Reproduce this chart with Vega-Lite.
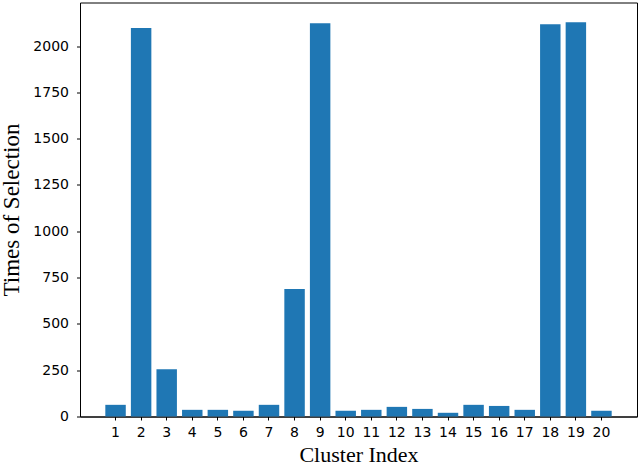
{
  "$schema": "https://vega.github.io/schema/vega-lite/v6.json",
  "width": 557,
  "height": 414,
  "autosize": {"type": "none"},
  "padding": {"left": 80, "top": 2.5, "right": 3, "bottom": 49.5},
  "data": {
    "values": [
      {"cluster": 1, "count": 63},
      {"cluster": 2, "count": 2097},
      {"cluster": 3, "count": 255},
      {"cluster": 4, "count": 36},
      {"cluster": 5, "count": 36},
      {"cluster": 6, "count": 31},
      {"cluster": 7, "count": 63},
      {"cluster": 8, "count": 688},
      {"cluster": 9, "count": 2123},
      {"cluster": 10, "count": 31},
      {"cluster": 11, "count": 36},
      {"cluster": 12, "count": 52},
      {"cluster": 13, "count": 41},
      {"cluster": 14, "count": 20},
      {"cluster": 15, "count": 63},
      {"cluster": 16, "count": 57},
      {"cluster": 17, "count": 36},
      {"cluster": 18, "count": 2118},
      {"cluster": 19, "count": 2129},
      {"cluster": 20, "count": 31}
    ]
  },
  "mark": {"type": "bar", "color": "#1f77b4"},
  "encoding": {
    "x": {
      "field": "cluster",
      "type": "ordinal",
      "scale": {"paddingInner": 0.2, "paddingOuter": 0.99},
      "axis": {
        "title": "Cluster Index",
        "labelAngle": 0,
        "labelFont": "DejaVu Sans",
        "labelFontSize": 14,
        "labelColor": "#000000",
        "labelPadding": 5,
        "tickSize": 3.5,
        "tickColor": "#000000",
        "domainColor": "#000000",
        "titleFont": "Liberation Serif",
        "titleFontSize": 22,
        "titleFontWeight": "normal",
        "titleColor": "#000000",
        "titleBaseline": "alphabetic",
        "titleY": 45
      }
    },
    "y": {
      "field": "count",
      "type": "quantitative",
      "scale": {"domain": [0, 2235], "nice": false},
      "axis": {
        "title": "Times of Selection",
        "values": [0, 250, 500, 750, 1000, 1250, 1500, 1750, 2000],
        "format": "d",
        "grid": false,
        "labelFont": "DejaVu Sans",
        "labelFontSize": 14,
        "labelColor": "#000000",
        "labelPadding": 8,
        "tickSize": 3.5,
        "tickColor": "#000000",
        "domainColor": "#000000",
        "titleFont": "Liberation Serif",
        "titleFontSize": 23,
        "titleFontWeight": "normal",
        "titleColor": "#000000",
        "titleBaseline": "alphabetic",
        "titleX": -62
      }
    }
  },
  "config": {
    "view": {"stroke": "#000000", "strokeWidth": 1},
    "axis": {"domainWidth": 1, "tickWidth": 1}
  }
}
